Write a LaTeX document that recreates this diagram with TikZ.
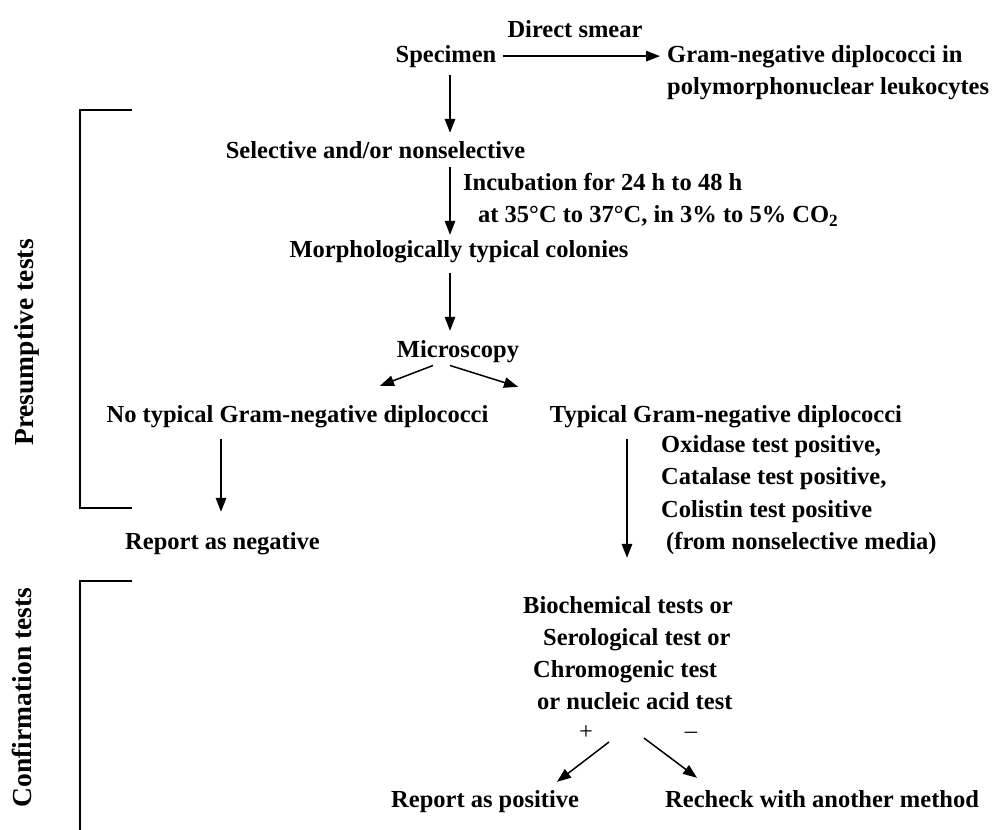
\documentclass[tikz,border=0pt]{standalone}
\usepackage{fontspec}
\setmainfont{Liberation Serif}
\usetikzlibrary{arrows.meta,calc}
\begin{document}
\begin{tikzpicture}[x=1pt,y=-1pt,
  txt/.style={font=\fontsize{24.5}{32.5}\selectfont\bfseries, inner sep=0pt},
  side/.style={font=\fontsize{27.5}{33}\selectfont\bfseries, inner sep=0pt, rotate=90, anchor=base},
  sym/.style={font=\fontsize{24.5}{33}\selectfont, inner sep=0pt},
  arr/.style={line width=1.5pt, -{Triangle[length=14pt,width=10.5pt]}},
  brk/.style={line width=2pt}]
\useasboundingbox[fill=white] (0,0) rectangle (999,830);
% text nodes (multi-line nodes: base anchor = baseline of last line)
\node[txt,anchor=base] (spec) at (446,62) {Specimen};
\node[txt,anchor=base] (smear) at (575,37) {Direct smear};
\node[txt,anchor=base west,align=left] (gram) at (667,94.5) {Gram-negative diplococci in\\polymorphonuclear leukocytes};
\node[txt,anchor=base] (sel) at (375.5,158) {Selective and/or nonselective};
\node[txt,anchor=base west,align=left] (incub) at (463,222.5) {Incubation for 24 h to 48 h\\\hspace*{15pt}at 35°C to 37°C, in 3\% to 5\% CO\textsubscript{2}};
\node[txt,anchor=base] (morph) at (459,257) {Morphologically typical colonies};
\node[txt,anchor=base] (micro) at (458,357) {Microscopy};
\node[txt,anchor=base] (notyp) at (297.5,422) {No typical Gram-negative diplococci};
\node[txt,anchor=base] (typ) at (726,422) {Typical Gram-negative diplococci};
\node[txt,anchor=base west] (neg) at (125,549) {Report as negative};
\node[txt,anchor=base west,align=left] (ox) at (661,549.5) {Oxidase test positive,\\Catalase test positive,\\Colistin test positive\\\hspace*{5pt}(from nonselective media)};
\node[txt,anchor=base west,align=left,font=\fontsize{24.5}{32}\selectfont\bfseries] (bio) at (523,709) {Biochemical tests or\\\hspace*{20pt}Serological test or\\\hspace*{10pt}Chromogenic test\\\hspace*{14pt}or nucleic acid test};
\node[sym,anchor=center] (plus) at (586,733) {+};
\node[sym,anchor=center] (minus) at (691,735) {–};
\node[txt,anchor=base west] (pos) at (391,807) {Report as positive};
\node[txt,anchor=base west] (rech) at (665,807) {Recheck with another method};
\node[side] (pres) at (33,342.5) {Presumptive tests};
\node[side] (conf) at (31,697.5) {Confirmation tests};
% brackets
\draw[brk] (132,110) -- (80,110) -- (80,508) -- (132,508);
\draw[brk] (132,581) -- (80,581) -- (80,830);
% axis coordinates for vertical arrows
\coordinate (ax) at (450,0);
\coordinate (bx) at (221,0);
\coordinate (cx) at (627,0);
% connectors
\draw[arr,shorten <=6pt,shorten >=7pt] (spec.east) -- (spec.east -| gram.west);
\draw[arr,shorten <=8pt,shorten >=8pt] (ax |- spec.south) -- (ax |- sel.north);
\draw[arr,shorten <=9pt,shorten >=5pt] (ax |- sel.south) -- (ax |- morph.north);
\draw[arr,shorten <=10pt,shorten >=9pt] (ax |- morph.south) -- (ax |- micro.north);
\draw[arr] ($(micro.south)+(-25,3)$) -- ($(notyp.north)+(82.5,-19)$);
\draw[arr] ($(micro.south)+(-8,3)$) -- ($(typ.north)+(-208,-18)$);
\draw[arr,shorten <=11pt,shorten >=20pt] (bx |- notyp.south) -- (bx |- neg.north);
\draw[arr,shorten <=11pt,shorten >=38pt] (cx |- typ.south) -- (cx |- bio.north);
\draw[arr] ($(plus)+(23,9)$) -- ($(pos.north west)+(166,-8)$);
\draw[arr] ($(minus)+(-47,3)$) -- ($(rech.north west)+(32,-12)$);
\end{tikzpicture}
\end{document}
